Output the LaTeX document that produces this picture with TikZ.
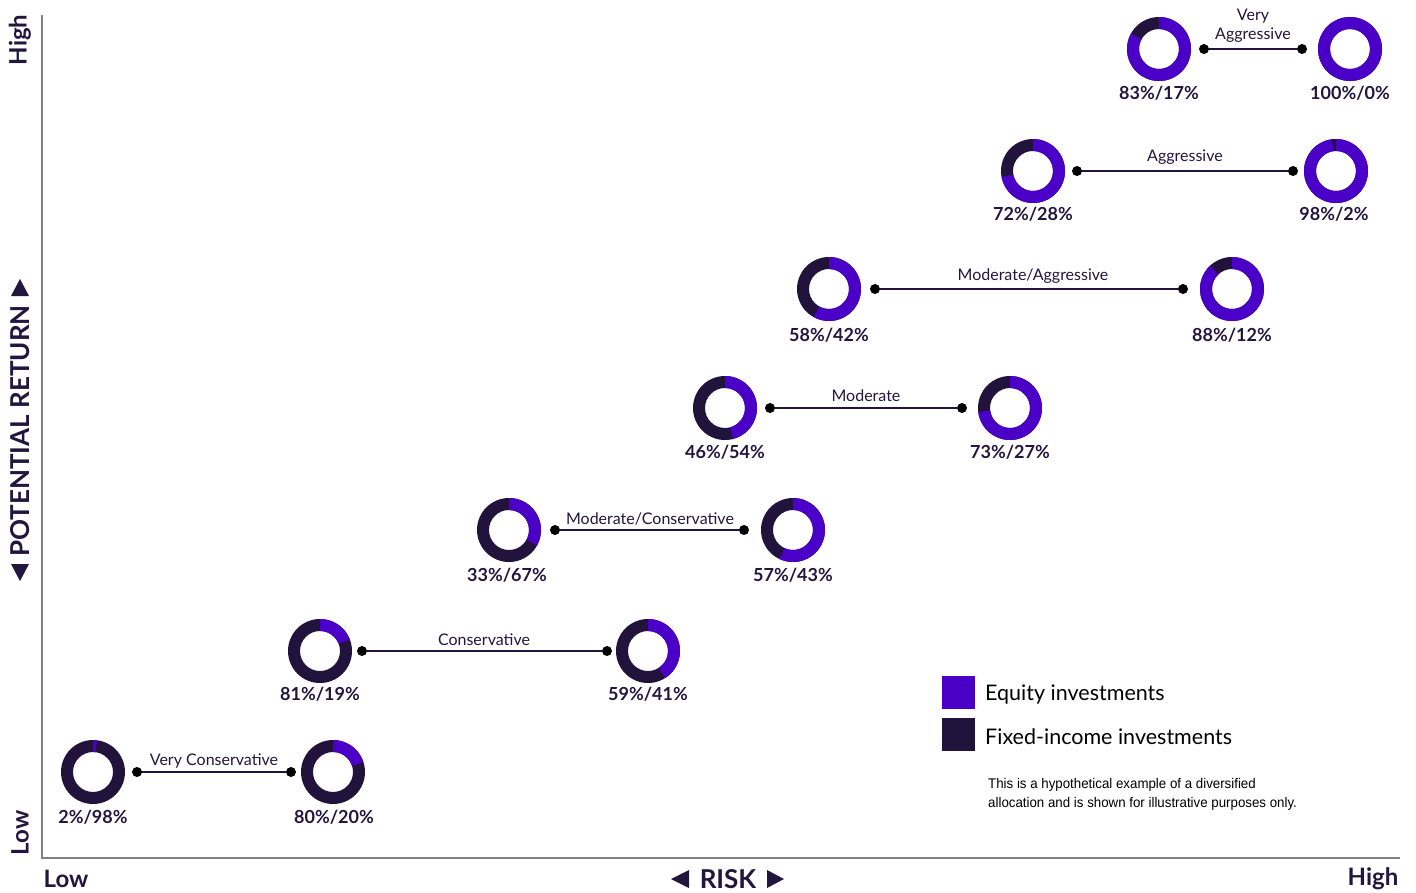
\documentclass[tikz,border=0pt]{standalone}
\usepackage{fontspec}
\setmainfont{Lato}
\newfontfamily\narrowfont[FakeStretch=0.95]{Liberation Sans}
\usetikzlibrary{calc}
\definecolor{equity}{HTML}{4B00C8}
\definecolor{fixedc}{HTML}{22133D}
\definecolor{inkc}{HTML}{22163F}
\definecolor{axisc}{HTML}{808080}
\newcommand\donutring[4]{%
  \coordinate (#1) at (#2,#3);
  \fill[fixedc, even odd rule] (#1) circle[radius=32] (#1) circle[radius=20];
  \pgfmathsetmacro\endang{90-3.6*#4}
  \fill[equity] ($(#1)+(90:32)$) arc[start angle=90,end angle=\endang,radius=32]
     -- ($(#1)+(\endang:20)$) arc[start angle=\endang,end angle=90,radius=20] -- cycle;
}
\tikzset{
  pctlabel/.style={text=inkc, font=\fontsize{18}{20}\selectfont\bfseries, inner sep=0pt},
  linklabel/.style={text=inkc, font=\fontsize{16}{18}\selectfont, inner sep=0pt, align=center},
  enddot/.style={circle, fill=black, inner sep=0pt, minimum size=10pt},
  linkline/.style={draw=fixedc, line width=1.3pt},
  axisline/.style={draw=axisc, line width=2.5pt},
  axistext/.style={text=inkc, font=\fontsize{24}{26}\selectfont\bfseries, inner sep=0pt},
  axistitle/.style={text=inkc, font=\fontsize{26}{28}\selectfont\bfseries, inner sep=0pt},
  legendtext/.style={text=black, font=\fontsize{21.5}{23}\selectfont, inner sep=0pt, anchor=west},
}
\begin{document}
\begin{tikzpicture}[x=1pt,y=1pt]
\useasboundingbox (0,0) rectangle (1416,-892);
% axes
\coordinate (top) at (42,-15);
\coordinate (origin) at (42,-858);
\coordinate (right) at (1400,-858);
\draw[axisline] (top) -- (origin) -- (right);
\node[axistext, rotate=90] (yhigh) at (20,-40) {High};
\node[axistext, rotate=90] (ylow) at (20,-833) {Low};
\node[axistitle, rotate=90] (ytitle) at (20,-431) {POTENTIAL RETURN};
\fill[inkc] (11,-296) -- (29,-296) -- (20,-279) -- cycle;
\fill[inkc] (11,-564) -- (29,-564) -- (20,-581) -- cycle;
\node[axistext] (xlow) at (66,-879) {Low};
\node[axistext] (xhigh) at (1373,-879) {High};
\node[axistitle] (xtitle) at (728,-879) {RISK};
\fill[inkc] (689,-870) -- (689,-888) -- (671,-879) -- cycle;
\fill[inkc] (767,-870) -- (767,-888) -- (784,-879) -- cycle;
% donuts
\donutring{a1}{93}{-772}{2}
\donutring{b1}{333}{-772}{20}
\donutring{a2}{320}{-651}{19}
\donutring{b2}{648}{-651}{41}
\donutring{a3}{509}{-530}{33}
\donutring{b3}{793}{-530}{57}
\donutring{a4}{725}{-408}{46}
\donutring{b4}{1010}{-408}{73}
\donutring{a5}{829}{-289}{58}
\donutring{b5}{1232}{-289}{88}
\donutring{a6}{1033}{-171}{72}
\donutring{b6}{1336}{-171}{98}
\donutring{a7}{1159}{-49}{83}
\donutring{b7}{1350}{-49}{100}
% percentage labels
\node[pctlabel] (la1) at (93,-817) {2\%/98\%};
\node[pctlabel] (lb1) at (334,-817) {80\%/20\%};
\node[pctlabel] (la2) at (320,-694) {81\%/19\%};
\node[pctlabel] (lb2) at (648,-694) {59\%/41\%};
\node[pctlabel] (la3) at (507,-575) {33\%/67\%};
\node[pctlabel] (lb3) at (793,-575) {57\%/43\%};
\node[pctlabel] (la4) at (725,-452) {46\%/54\%};
\node[pctlabel] (lb4) at (1010,-452) {73\%/27\%};
\node[pctlabel] (la5) at (829,-335) {58\%/42\%};
\node[pctlabel] (lb5) at (1232,-335) {88\%/12\%};
\node[pctlabel] (la6) at (1033,-214) {72\%/28\%};
\node[pctlabel] (lb6) at (1334,-214) {98\%/2\%};
\node[pctlabel] (la7) at (1159,-93) {83\%/17\%};
\node[pctlabel] (lb7) at (1350,-93) {100\%/0\%};
% connectors
\node[enddot] (p1) at (137,-772) {}; \node[enddot] (q1) at (291,-772) {};
\node[enddot] (p2) at (362,-651) {}; \node[enddot] (q2) at (607,-651) {};
\node[enddot] (p3) at (555,-530) {}; \node[enddot] (q3) at (744,-530) {};
\node[enddot] (p4) at (770,-408) {}; \node[enddot] (q4) at (962,-408) {};
\node[enddot] (p5) at (875,-289) {}; \node[enddot] (q5) at (1183,-289) {};
\node[enddot] (p6) at (1077,-171) {}; \node[enddot] (q6) at (1293,-171) {};
\node[enddot] (p7) at (1204,-49) {}; \node[enddot] (q7) at (1302,-49) {};
\draw[linkline] (p1) -- (q1);
\draw[linkline] (p2) -- (q2);
\draw[linkline] (p3) -- (q3);
\draw[linkline] (p4) -- (q4);
\draw[linkline] (p5) -- (q5);
\draw[linkline] (p6) -- (q6);
\draw[linkline] (p7) -- (q7);
\node[linklabel] (t1) at (214,-761) {Very Conservative};
\node[linklabel] (t2) at (484,-640) {Conservative};
\node[linklabel] (t3) at (650,-519) {Moderate/Conservative};
\node[linklabel] (t4) at (866,-396) {Moderate};
\node[linklabel] (t5) at (1033,-276) {Moderate/Aggressive};
\node[linklabel] (t6) at (1185,-157) {Aggressive};
\node[linklabel] (t7) at (1253,-26) {Very\\[1pt]Aggressive};
% legend
\node[fill=equity, minimum size=33pt, inner sep=0pt] (sq1) at (958.5,-692) {};
\node[fill=fixedc, minimum size=33pt, inner sep=0pt] (sq2) at (958.5,-734) {};
\node[legendtext] (lg1) at (985,-694) {Equity investments};
\node[legendtext] (lg2) at (985,-737) {Fixed-income investments};
\node[anchor=north west, inner sep=0pt, align=left, text=black, font=\narrowfont\fontsize{14}{19}\selectfont] (note) at (988,-778) {This is a hypothetical example of a diversified\\allocation and is shown for illustrative purposes only.};
\end{tikzpicture}
\end{document}
